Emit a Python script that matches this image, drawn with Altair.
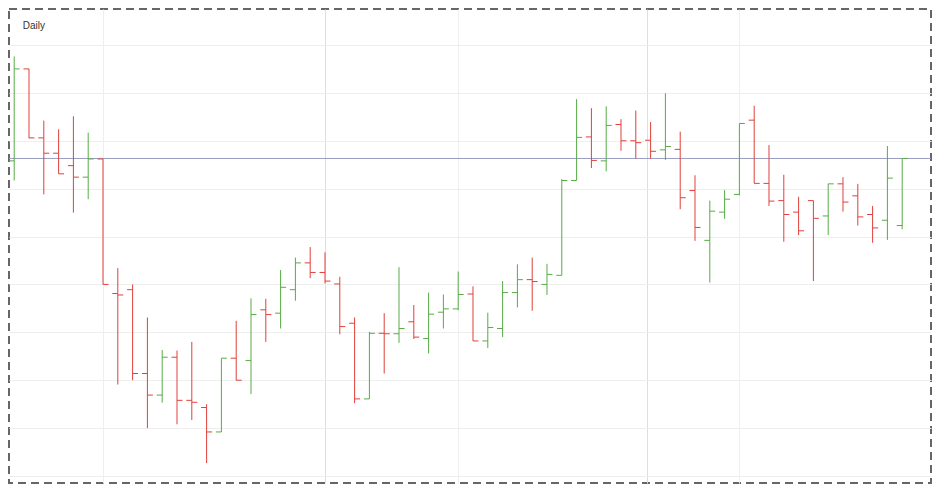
import altair as alt
import pandas as pd

# OHLC values (one entry per daily bar)
opens = [166.0, 165.8, 185.0, 170.6, 167.4, 164.8, 162.4, 166.2, 138.1, 138.9,
         121.4, 116.9, 124.8, 115.8, 114.3, 109.2, 124.6, 124.1, 134.7, 134.0,
         138.9, 144.5, 142.5, 140.1, 131.9, 116.1, 129.8, 129.7, 132.2, 128.7,
         134.2, 134.9, 138.0, 128.2, 130.8, 138.3, 141.0, 140.0, 141.9, 161.7,
         170.8, 165.8, 173.4, 170.0, 170.1, 168.1, 168.2, 159.6, 149.2, 155.1,
         158.8, 174.3, 161.1, 157.5, 155.1, 157.5, 154.3, 161.0, 158.5, 154.6,
         153.4, 152.3]
highs = [166.6, 187.6, 185.0, 174.2, 172.4, 175.1, 171.7, 166.2, 143.4, 140.0,
         133.1, 126.3, 126.2, 128.0, 115.0, 124.6, 132.4, 137.1, 137.0, 143.0,
         145.6, 147.8, 146.7, 141.6, 133.1, 130.1, 134.0, 143.6, 135.7, 138.3,
         137.9, 142.7, 139.6, 134.1, 140.7, 144.2, 145.6, 144.3, 162.0, 178.7,
         176.8, 177.2, 174.5, 176.3, 173.9, 179.9, 171.9, 162.8, 157.5, 159.7,
         173.6, 177.3, 169.1, 162.9, 158.3, 157.5, 161.0, 162.4, 161.0, 156.4,
         168.9, 166.3]
lows = [164.7, 161.7, 170.5, 158.8, 163.1, 155.0, 157.8, 140.0, 119.1, 120.0,
        110.0, 115.3, 110.8, 111.7, 102.7, 109.2, 120.0, 117.1, 128.0, 130.8,
        136.6, 141.3, 140.2, 129.6, 115.2, 116.1, 121.4, 127.8, 128.6, 125.6,
        130.8, 134.6, 128.2, 126.7, 129.0, 135.2, 134.5, 137.8, 141.9, 161.7,
        164.3, 163.6, 167.9, 166.3, 166.3, 166.0, 155.7, 149.1, 140.4, 153.7,
        158.6, 161.1, 156.4, 148.9, 150.3, 140.7, 150.3, 155.2, 152.3, 148.7,
        149.3, 151.5]
closes = [165.3, 185.0, 170.6, 167.4, 163.1, 162.4, 166.2, 140.0, 137.8, 121.4,
          116.9, 124.8, 115.8, 115.4, 109.2, 124.6, 120.0, 133.7, 133.7, 139.4,
          144.5, 142.5, 140.7, 131.2, 116.1, 129.8, 129.7, 130.8, 129.0, 133.8,
          134.9, 137.9, 128.2, 131.0, 138.3, 141.0, 140.6, 142.1, 161.7, 170.7,
          165.9, 173.2, 170.0, 169.6, 167.8, 168.8, 158.1, 151.9, 155.3, 157.8,
          173.6, 161.1, 157.4, 154.6, 151.2, 153.8, 161.0, 157.2, 154.1, 151.8,
          162.2, 166.3]

# vertical grid positions (bar index) and the darker ones among them
x_grid = [7, 22, 31, 43.76, 50]
x_grid_dark = [22, 43.76]
# horizontal grid values
y_grid = [100, 110, 120, 130, 140, 150, 160, 170, 180, 190]
period_label = "Daily"

UP = "#58ab46"
DOWN = "#e0403b"

df = pd.DataFrame({
    "i": list(range(len(opens))),
    "open": opens,
    "high": highs,
    "low": lows,
    "close": closes,
})
df["dir"] = ["up" if c >= o else "down" for o, c in zip(opens, closes)]

last_df = pd.DataFrame({"price": [closes[-1]]})

xs = alt.Scale(domain=[0.6486, 62.946], nice=False, zero=False)
ys = alt.Scale(domain=[98.54, 197.51], nice=False, zero=False)

dark_test = " || ".join(f"datum.value == {v}" for v in x_grid_dark)
xax = alt.Axis(values=x_grid, grid=True, labels=False, ticks=False, domain=False,
               gridWidth=1,
               gridColor={"condition": {"test": dark_test, "value": "#dedede"},
                          "value": "#efefef"})
yax = alt.Axis(values=y_grid, grid=True, labels=False, ticks=False, domain=False,
               gridColor="#eeeeee", gridWidth=1)

color = alt.Color("dir:N", scale=alt.Scale(domain=["up", "down"], range=[UP, DOWN]),
                  legend=None)

X = alt.X("i:Q", scale=xs, axis=xax, title="")

base = alt.Chart(df)

hl = base.mark_rule(strokeWidth=1, clip=True).encode(
    x=X,
    y=alt.Y("low:Q", scale=ys, axis=yax, title=""),
    y2="high:Q",
    color=color,
)

open_tick = base.mark_rule(strokeWidth=1, x2Offset=-5.5, clip=True).encode(
    x=X,
    x2="i:Q",
    y=alt.Y("open:Q", scale=ys, axis=yax, title=""),
    color=color,
)

close_tick = base.mark_rule(strokeWidth=1, x2Offset=5.5, clip=True).encode(
    x=X,
    x2="i:Q",
    y=alt.Y("close:Q", scale=ys, axis=yax, title=""),
    color=color,
)

last_line = alt.Chart(last_df).mark_rule(color="#9a9ec4", strokeWidth=1).encode(
    y=alt.Y("price:Q", scale=ys, axis=yax, title=""),
)

label = alt.Chart(pd.DataFrame({"t": [period_label]})).mark_text(
    align="left", baseline="alphabetic", fontSize=10, font="Liberation Sans",
    color="#333333",
).encode(
    x=alt.value(13.7),
    y=alt.value(20.3),
    text="t:N",
)

chart = alt.layer(last_line, hl, open_tick, close_tick, label).properties(
    width=922,
    height=474,
    padding=1,
    autosize=alt.AutoSizeParams(type="none"),
    background="#ffffff",
).configure_view(
    stroke="#666666",
    strokeWidth=2,
    strokeDash=[8, 5],
)

chart.save("out.html", embed_options={"renderer": "svg", "actions": False})
